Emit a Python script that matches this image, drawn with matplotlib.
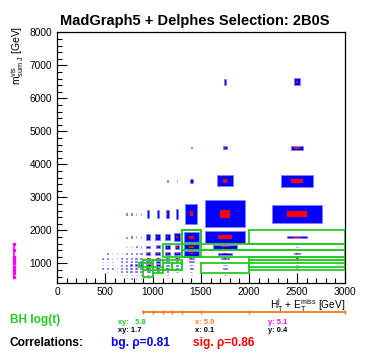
import matplotlib
matplotlib.use('Agg')
import matplotlib.pyplot as plt
from matplotlib.patches import Rectangle
from matplotlib.collections import PatchCollection
import numpy as np

plt.rcParams['font.family'] = ['Liberation Sans', 'DejaVu Sans']
plt.rcParams['mathtext.fontset'] = 'custom'
plt.rcParams['mathtext.rm'] = 'Liberation Sans'
plt.rcParams['mathtext.it'] = 'Liberation Sans:italic'
plt.rcParams['mathtext.bf'] = 'Liberation Sans:bold'

# bin edges (GeV)
x_edges = [450, 500, 550, 600, 650, 700, 750, 800, 850, 900, 1000, 1100, 1200, 1300, 1500, 2000, 3000]
y_edges = [400, 500, 600, 700, 800, 900, 1000, 1100, 1200, 1400, 1600, 2000, 3000, 4000, 5000, 8000]

# relative box size per bin (ROOT "BOX" style), rows listed from top (5000-8000) to bottom (400-500)
bg_size = [
    [0, 0, 0, 0, 0, 0, 0, 0, 0, 0, 0, 0, 0, 0, .055, .07],
    [0, 0, 0, 0, 0, 0, 0, 0, 0, 0, 0, 0, 0, .03, .09, .13],
    [0, 0, 0, 0, 0, 0, 0, 0, 0, 0, 0, .05, .08, .12, .33, .34],
    [0, 0, 0, 0, 0, .05, .06, .07, .08, .22, .24, .25, .30, .62, .82, .52],
    [0, 0, .04, .05, .06, .08, .10, .12, .15, .45, .50, .50, .55, .80, .85, .20],
    [0, .04, .05, .07, .08, .10, .12, .15, .20, .42, .45, .50, .50, .76, .48, .03],
    [0, .05, .07, .09, .12, .15, .18, .22, .26, .45, .50, .55, .55, .76, .29, .06],
    [.05, .08, .10, .14, .18, .22, .26, .30, .35, .35, .40, .38, .35, .30, .15, .025],
    [.06, .10, .14, .18, .22, .28, .34, .40, .45, .50, .45, .38, .30, .30, .15, .02],
    [.05, .10, .15, .20, .25, .32, .40, .48, .55, .50, .45, .35, .25, .20, .10, .02],
    [.05, .08, .14, .20, .26, .34, .42, .50, .55, .45, .35, .25, .20, .15, .08, .02],
    [.04, .07, .12, .18, .25, .32, .38, .40, .40, .30, .22, .15, .12, .10, .05, 0],
    [0, .04, .08, .12, .18, .22, .25, .25, .22, .15, .10, .08, .06, .05, .03, 0],
    [0, 0, 0, .04, .06, .08, .10, .10, .10, .07, .05, .03, 0, 0, 0, 0],
    [0, 0, 0, 0, 0, .03, .04, .04, .04, .03, 0, 0, 0, 0, 0, 0],
]
sig_size = [
    [0, 0, 0, 0, 0, 0, 0, 0, 0, 0, 0, 0, 0, 0, 0, .025],
    [0, 0, 0, 0, 0, 0, 0, 0, 0, 0, 0, 0, 0, 0, .03, .055],
    [0, 0, 0, 0, 0, 0, 0, 0, 0, 0, 0, 0, 0, 0, .10, .13],
    [0, 0, 0, 0, 0, 0, 0, 0, 0, 0, 0, .06, .10, .15, .22, .20],
    [0, 0, 0, 0, 0, 0, 0, 0, 0, .08, .10, .12, .15, .23, .28, .08],
    [0, 0, 0, 0, 0, 0, 0, 0, 0, .12, .15, .18, .20, .22, .16, .03],
    [0, 0, 0, 0, 0, 0, 0, 0, .05, .15, .18, .20, .22, .22, .09, .03],
    [0, 0, 0, 0, 0, 0, 0, .05, .08, .15, .18, .15, .12, .10, .05, .02],
    [0, 0, 0, 0, 0, 0, .05, .08, .12, .20, .20, .15, .10, .08, .05, .02],
    [0, 0, 0, 0, 0, .05, .08, .12, .18, .25, .22, .12, .08, .06, .04, 0],
    [0, 0, 0, 0, .04, .06, .10, .14, .18, .20, .15, .10, .06, .05, .03, 0],
    [0, 0, 0, 0, 0, .04, .06, .08, .10, .10, .06, .04, 0, 0, 0, 0],
    [0, 0, 0, 0, 0, 0, .03, .04, .05, .04, 0, 0, 0, 0, 0, 0],
    [0, 0, 0, 0, 0, 0, 0, 0, 0, 0, 0, 0, 0, 0, 0, 0],
    [0, 0, 0, 0, 0, 0, 0, 0, 0, 0, 0, 0, 0, 0, 0, 0],
]

# BumpHunter windows (x0, x1, y0, y1)
green_boxes = [
    (1300, 1500, 1600, 2000),
    (1300, 1500, 1200, 2000),
    (1100, 1300, 1200, 1600),
    (1300, 3000, 1400, 1600),
    (1300, 3000, 1200, 1400),
    (2000, 3000, 1600, 2000),
    (2000, 3000, 1100, 1200),
    (2000, 3000, 900, 1100),
    (2000, 3000, 800, 1000),
    (1500, 2000, 700, 1000),
    (1000, 1300, 800, 1100),
    (900, 1100, 800, 1100),
    (850, 1000, 900, 1000),
    (900, 1000, 600, 800),
    (1000, 1100, 700, 900),
    (1100, 1200, 800, 1000),
    (1200, 1300, 800, 1000),
]

x_window = [900, 1000, 1100, 1200, 1300, 1500, 2000, 3000]
y_window = [600, 700, 800, 900, 1000, 1100, 1200, 1400, 1600]

bh_xy, bh_x, bh_y = 5.8, 5.0, 5.1
p_xy, p_x, p_y = 1.7, 0.1, 0.4
rho_bg, rho_sig = 0.81, 0.86

green = '#22cc22'
orange = '#ff7711'
magenta = '#ff00ff'

fig = plt.figure(figsize=(3.66, 3.55), dpi=100)
ax = fig.add_axes([57/366, 1 - 283.3/355, 288/366, 251/355])


def boxes(sizes):
    rects = []
    for i, row in enumerate(sizes[::-1]):
        for j, f in enumerate(row):
            if f <= 0:
                continue
            x0, x1 = x_edges[j], x_edges[j + 1]
            y0, y1 = y_edges[i], y_edges[i + 1]
            w, h = (x1 - x0) * f, (y1 - y0) * f
            xc, yc = (x0 + x1) / 2, (y0 + y1) / 2
            rects.append(Rectangle((xc - w / 2, yc - h / 2), w, h))
    return rects


ax.add_collection(PatchCollection(boxes(bg_size), facecolor='#0000ff',
                                  edgecolor='#8080ff', linewidth=0.6, zorder=2))
ax.add_collection(PatchCollection(boxes(sig_size), facecolor='#ff0000',
                                  edgecolor='none', zorder=3))
for (x0, x1, y0, y1) in green_boxes:
    ax.add_patch(Rectangle((x0, y0), x1 - x0, y1 - y0, fill=False,
                           edgecolor=green, linewidth=1.3, zorder=4))

ax.set_xlim(0, 3000)
ax.set_ylim(400, 8000)
ax.set_xticks(np.arange(0, 3001, 500))
ax.set_xticks(np.arange(0, 3001, 100), minor=True)
ax.set_yticks(np.arange(1000, 8001, 1000))
ax.set_yticks(np.arange(400, 8001, 200), minor=True)
ax.tick_params(which='both', direction='in', top=False, right=False,
               labelsize=7.3, width=0.8)
ax.tick_params(which='major', length=7)
ax.tick_params(which='minor', length=3.5)
ax.tick_params(axis='x', pad=3)
for s in ax.spines.values():
    s.set_linewidth(0.9)

fig.text(194.5/366, 1 - 25/355, 'MadGraph5 + Delphes Selection: 2B0S', fontsize=10.5,
         fontweight='bold', ha='center', va='baseline')
fig.text(18/366, 1 - 26/355, r'$\mathrm{m^{vis}_{sum\ J}}$ [GeV]', rotation=90,
         ha='center', va='top', fontsize=7.5)
fig.text(345/366, 1 - 305/355, r'$\mathrm{H_T^j}$ + $\mathrm{E_T^{miss}}$ [GeV]',
         ha='right', va='center', fontsize=7.3)

# window projections
ax.plot([x_window[0], x_window[-1]], [-0.1155, -0.1155], color=orange, lw=1.3,
        transform=ax.get_xaxis_transform(), clip_on=False)
ax.plot(x_window, [-0.1155] * len(x_window), ls='none', marker='|', ms=3,
        color=orange, mew=1, transform=ax.get_xaxis_transform(), clip_on=False)
ax.plot([-0.149, -0.149], [y_window[0], y_window[-1]], color=magenta, lw=1.2,
        transform=ax.get_yaxis_transform(), clip_on=False)
ax.plot([-0.149] * len(y_window), y_window, ls='none', marker='s', ms=1.6,
        color=magenta, transform=ax.get_yaxis_transform(), clip_on=False)

# statistics text
fig.text(10/366, 1 - 320.5/355, 'BH log(t)', color=green, fontsize=8.6,
         fontweight='bold', va='center')
fig.text(118/366, 1 - 322/355, f'xy:   {bh_xy}', color=green, fontsize=5.4,
         fontweight='bold', va='center')
fig.text(195/366, 1 - 322/355, f'x: {bh_x}', color=orange, fontsize=5.4,
         fontweight='bold', va='center')
fig.text(268/366, 1 - 322/355, f'y: {bh_y}', color=magenta, fontsize=5.4,
         fontweight='bold', va='center')
fig.text(118/366, 1 - 331/355, f'xy: {p_xy}', color='black', fontsize=5.4,
         fontweight='bold', va='center')
fig.text(195/366, 1 - 331/355, f'x: {p_x}', color='black', fontsize=5.4,
         fontweight='bold', va='center')
fig.text(268/366, 1 - 331/355, f'y: {p_y}', color='black', fontsize=5.4,
         fontweight='bold', va='center')
fig.text(10/366, 1 - 343/355, 'Correlations:', color='black', fontsize=8.6,
         fontweight='bold', va='center')
fig.text(111/366, 1 - 343/355, f'bg. \u03c1={rho_bg}', color='#0000ff', fontsize=8.6,
         fontweight='bold', va='center')
fig.text(193/366, 1 - 343/355, f'sig. \u03c1={rho_sig}', color='#ff0000', fontsize=8.6,
         fontweight='bold', va='center')

fig.savefig('out.png', dpi=100)
